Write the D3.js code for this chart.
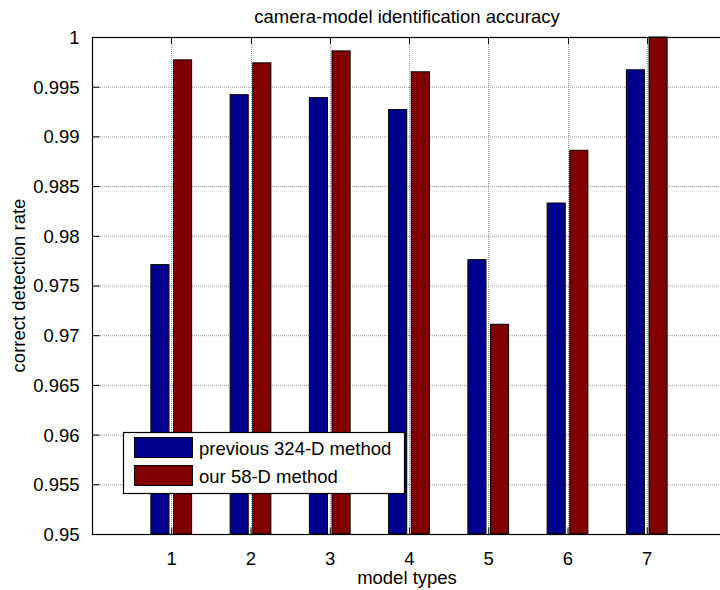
<!DOCTYPE html>
<html>
<head>
<meta charset="utf-8">
<script src="https://cdnjs.cloudflare.com/ajax/libs/d3/7.8.5/d3.min.js"></script>
<style>
  body { margin: 0; background: #fff; }
  svg text { font-family: "Liberation Sans", Arial, sans-serif; fill: #000; }
</style>
</head>
<body>
<div id="chart"></div>
<script>
'use strict';

// values
var modelTypes = [1, 2, 3, 4, 5, 6, 7];
var previousRates = [0.9771, 0.9942, 0.9939, 0.9927, 0.9776, 0.9833, 0.9967];
var ourRates = [0.9977, 0.9974, 0.9986, 0.9965, 0.9711, 0.9886, 1.0];
var yTicks = [0.95, 0.955, 0.96, 0.965, 0.97, 0.975, 0.98, 0.985, 0.99, 0.995, 1];
var yTickLabels = ['0.95', '0.955', '0.96', '0.965', '0.97', '0.975', '0.98', '0.985', '0.99', '0.995', '1'];
var seriesNames = ['previous 324-D method', 'our 58-D method'];
var seriesColors = ['#00008f', '#800000'];

var myApp = {};

myApp.width = 720;
myApp.height = 590;
myApp.plot = {left: 92, top: 37, right: 726, bottom: 534};
myApp.fontSize = 18.5;

myApp.svg = undefined;
myApp.x = undefined;
myApp.y = undefined;

myApp.appendSvg = function(div)
{
    var svg = d3.select(div).append('svg')
        .attr('width', myApp.width)
        .attr('height', myApp.height);

    myApp.svg = svg;
    return svg;
}

myApp.buildScales = function()
{
    myApp.x = d3.scaleLinear()
        .domain([0, 8])
        .range([myApp.plot.left, myApp.plot.right]);

    myApp.y = d3.scaleLinear()
        .domain([0.95, 1])
        .range([myApp.plot.bottom, myApp.plot.top]);
}

myApp.drawGrid = function(svg)
{
    var p = myApp.plot;
    var g = svg.append('g').attr('class', 'grid');

    g.selectAll('line.hgrid')
        .data(yTicks.slice(1, -1))
        .enter()
        .append('line')
        .attr('class', 'hgrid')
        .attr('x1', p.left).attr('x2', p.right)
        .attr('y1', function(d){ return myApp.y(d) + 0.5; })
        .attr('y2', function(d){ return myApp.y(d) + 0.5; })
        .style('stroke', '#999')
        .style('stroke-dasharray', '1,1');

    g.selectAll('line.vgrid')
        .data(modelTypes)
        .enter()
        .append('line')
        .attr('class', 'vgrid')
        .attr('x1', function(d){ return Math.round(myApp.x(d)) + 0.5; })
        .attr('x2', function(d){ return Math.round(myApp.x(d)) + 0.5; })
        .attr('y1', p.top).attr('y2', p.bottom)
        .style('stroke', '#999')
        .style('stroke-dasharray', '1,1');
}

myApp.drawBars = function(svg)
{
    // matlab grouped bar: offsets of +-1/7, width 0.8/3.5
    var offsets = [-1 / 7, 1 / 7];
    var barW = myApp.x(0.8 / 3.5) - myApp.x(0);
    var all = [previousRates, ourRates];

    all.forEach(function(series, s){
        svg.append('g')
            .attr('class', 'series-' + s)
            .selectAll('rect')
            .data(series)
            .enter()
            .append('rect')
            .attr('x', function(d, i){ return myApp.x(modelTypes[i] + offsets[s]) - barW / 2; })
            .attr('width', barW)
            .attr('y', function(d){ return myApp.y(d); })
            .attr('height', function(d){ return myApp.y(0.95) - myApp.y(d); })
            .style('fill', seriesColors[s])
            .style('stroke', '#000')
            .style('stroke-width', 1);
    });
}

myApp.drawAxes = function(svg)
{
    var p = myApp.plot;
    var fs = myApp.fontSize + 'px';

    // y axis on the left, ticks inward
    var yAxis = d3.axisLeft(myApp.y)
        .tickValues(yTicks)
        .tickSize(-7)
        .tickPadding(13)
        .tickFormat(function(d, i){ return yTickLabels[i]; });

    var gy = svg.append('g')
        .attr('transform', 'translate(' + (p.left + 0.5) + ',0)')
        .call(yAxis);
    gy.select('.domain').remove();
    gy.selectAll('line').style('stroke', '#000');
    gy.selectAll('text').style('font-size', fs).attr('dy', '0.35em');

    // x axis on the bottom
    var xAxis = d3.axisBottom(myApp.x)
        .tickValues(modelTypes)
        .tickSize(-7)
        .tickPadding(17)
        .tickFormat(d3.format('d'));

    var gx = svg.append('g')
        .attr('transform', 'translate(0,' + (p.bottom + 0.5) + ')')
        .call(xAxis);
    gx.select('.domain').remove();
    gx.selectAll('line').style('stroke', '#000');
    gx.selectAll('text').style('font-size', fs);

    // top ticks
    svg.append('g')
        .selectAll('line')
        .data(modelTypes)
        .enter()
        .append('line')
        .attr('x1', function(d){ return Math.round(myApp.x(d)) + 0.5; })
        .attr('x2', function(d){ return Math.round(myApp.x(d)) + 0.5; })
        .attr('y1', p.top).attr('y2', p.top + 7)
        .style('stroke', '#000');

    // box
    svg.append('rect')
        .attr('x', p.left + 0.5)
        .attr('y', p.top + 0.5)
        .attr('width', p.right - p.left)
        .attr('height', p.bottom - p.top)
        .style('fill', 'none')
        .style('stroke', '#000')
        .style('stroke-width', 1.2);
}

myApp.drawLabels = function(svg)
{
    var p = myApp.plot;
    var fs = myApp.fontSize + 'px';
    var cx = (p.left + p.right) / 2;

    svg.append('text')
        .attr('x', cx - 2)
        .attr('y', 23)
        .attr('text-anchor', 'middle')
        .style('font-size', fs)
        .text('camera-model identification accuracy');

    svg.append('text')
        .attr('x', cx - 2)
        .attr('y', 584)
        .attr('text-anchor', 'middle')
        .style('font-size', fs)
        .text('model types');

    svg.append('text')
        .attr('transform', 'translate(25,' + ((p.top + p.bottom) / 2) + ') rotate(-90)')
        .attr('text-anchor', 'middle')
        .style('font-size', fs)
        .text('correct detection rate');
}

myApp.drawLegend = function(svg)
{
    var lg = svg.append('g')
        .attr('class', 'legend')
        .attr('transform', 'translate(123,432)');

    lg.append('rect')
        .attr('x', 0.5).attr('y', 0.5)
        .attr('width', 281).attr('height', 61)
        .style('fill', '#fff')
        .style('stroke', '#000')
        .style('stroke-width', 1.2);

    var rows = lg.selectAll('g.row')
        .data(seriesNames)
        .enter()
        .append('g')
        .attr('class', 'row')
        .attr('transform', function(d, i){ return 'translate(0,' + (i * 28) + ')'; });

    rows.append('rect')
        .attr('x', 11.5).attr('y', 5.5)
        .attr('width', 58).attr('height', 20)
        .style('fill', function(d, i){ return seriesColors[i]; })
        .style('stroke', '#000');

    rows.append('text')
        .attr('x', 76)
        .attr('y', 23)
        .style('font-size', myApp.fontSize + 'px')
        .text(function(d){ return d; });
}

myApp.run = function()
{
    var svg = myApp.appendSvg('#chart');
    myApp.buildScales();
    myApp.drawGrid(svg);
    myApp.drawBars(svg);
    myApp.drawAxes(svg);
    myApp.drawLabels(svg);
    myApp.drawLegend(svg);
}

myApp.run();
</script>
</body>
</html>
